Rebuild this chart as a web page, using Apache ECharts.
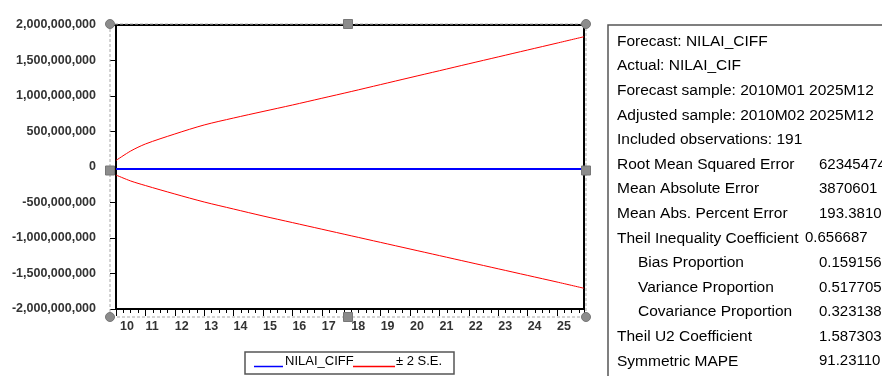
<!DOCTYPE html>
<html><head><meta charset="utf-8">
<script src="https://cdn.jsdelivr.net/npm/echarts@6/dist/echarts.min.js"></script>
<style>html,body{margin:0;padding:0;background:#fff}#c{width:882px;height:376px}</style>
</head><body><div id="c"></div>
<script>
// month index from 2010M01 (0) to 2025M12 (191)
const monthIndex = [0, 6, 12, 24, 36, 48, 60, 72, 84, 96, 108, 120, 132, 144, 156, 168, 180, 191];
const forecastValues = [-28e6, -28e6, -28e6, -28e6, -28e6, -28e6, -28e6, -28e6, -28e6, -28e6, -28e6, -28e6, -28e6, -28e6, -28e6, -28e6, -28e6, -28e6];
const upperBand = [92e6, 225e6, 324e6, 465e6, 592e6, 690e6, 782e6, 873e6, 968e6, 1063e6, 1161e6, 1259e6, 1356e6, 1454e6, 1551e6, 1648e6, 1745e6, 1835e6];
const lowerBand = [-113e6, -197e6, -261e6, -380e6, -493e6, -592e6, -690e6, -783e6, -876e6, -969e6, -1062e6, -1155e6, -1248e6, -1341e6, -1434e6, -1527e6, -1620e6, -1708e6];
const yearLabels = ['10', '11', '12', '13', '14', '15', '16', '17', '18', '19', '20', '21', '22', '23', '24', '25'];
const seriesNames = ['NILAI_CIFF', '± 2 S.E.'];
const statLabels = ['Forecast: NILAI_CIFF', 'Actual: NILAI_CIF', 'Forecast sample: 2010M01 2025M12', 'Adjusted sample: 2010M02 2025M12',
  'Included observations: 191', 'Root Mean Squared Error', 'Mean Absolute Error', 'Mean Abs. Percent Error',
  'Theil Inequality Coefficient', 'Bias Proportion', 'Variance Proportion', 'Covariance Proportion',
  'Theil U2 Coefficient', 'Symmetric MAPE'];
const statValues = ['', '', '', '', '', '62345474', '3870601', '193.3810', '0.656687', '0.159156', '0.517705', '0.323138', '1.587303', '91.23110'];

const pairs = (vals) => monthIndex.map((m, i) => [m, vals[i]]);
const indentedRows = {9: true, 10: true, 11: true};

const chart = echarts.init(document.getElementById('c'), null, {renderer: 'canvas'});
const FONT = "'Liberation Sans', Arial, sans-serif";

const graphics = [];
// selection frame (dashed) and handles
graphics.push({type: 'rect', z: 50, shape: {x: 110, y: 24, width: 476, height: 293},
  style: {fill: 'none', stroke: '#a8a8a8', lineWidth: 1, lineDash: [3, 2]}});
[[110, 24], [586, 24], [110, 317], [586, 317]].forEach(p => graphics.push({type: 'circle', z: 51,
  shape: {cx: p[0], cy: p[1], r: 4.5}, style: {fill: '#8c8c8c', stroke: '#777', lineWidth: 1}}));
[[348, 24], [348, 317], [110, 170.5], [586, 170.5]].forEach(p => graphics.push({type: 'rect', z: 51,
  shape: {x: p[0] - 4.5, y: p[1] - 4.5, width: 9, height: 9}, style: {fill: '#8c8c8c', stroke: '#777', lineWidth: 1}}));
// legend
graphics.push({type: 'rect', shape: {x: 245, y: 352, width: 209, height: 22}, style: {fill: '#fff', stroke: '#555', lineWidth: 1.5}});
graphics.push({type: 'line', shape: {x1: 254, y1: 366.5, x2: 283, y2: 366.5}, style: {stroke: '#0000ff', lineWidth: 1.5}});
graphics.push({type: 'text', x: 285, y: 361.5, style: {text: seriesNames[0], fill: '#000', font: "13px " + FONT, verticalAlign: 'middle', align: 'left'}});
graphics.push({type: 'line', shape: {x1: 353, y1: 366.5, x2: 395, y2: 366.5}, style: {stroke: '#ff0000', lineWidth: 1.5}});
graphics.push({type: 'text', x: 396, y: 361.5, style: {text: seriesNames[1], fill: '#000', font: "13px " + FONT, verticalAlign: 'middle', align: 'left'}});
// stats box
graphics.push({type: 'rect', shape: {x: 608, y: 25, width: 400, height: 400}, style: {fill: 'none', stroke: '#555', lineWidth: 1.5}});
statLabels.forEach((t, i) => {
  const y = 41.5 + i * 24.6;
  graphics.push({type: 'text', x: indentedRows[i] ? 638 : 617, y: y, style: {text: t, fill: '#000', font: "15.5px " + FONT, verticalAlign: 'middle', align: 'left'}});
  if (statValues[i]) {
    const vx = (i === 8) ? 805 : 819;
    graphics.push({type: 'text', x: vx, y: y, style: {text: statValues[i], fill: '#000', font: "15px " + FONT, verticalAlign: 'middle', align: 'left'}});
  }
});

chart.setOption({
  animation: false,
  backgroundColor: '#fff',
  grid: {left: 116, right: 298, top: 25, bottom: 67, show: true, borderColor: '#000', borderWidth: 2, backgroundColor: '#fff'},
  legend: {show: false},
  xAxis: {
    type: 'value', min: 0, max: 191, interval: 12,
    axisLine: {show: true, onZero: false, lineStyle: {color: '#000', width: 2}},
    axisTick: {show: true, length: 7, lineStyle: {color: '#000', width: 1}},
    minorTick: {show: true, splitNumber: 4, length: 4, lineStyle: {color: '#000', width: 1}},
    splitLine: {show: false}, minorSplitLine: {show: false},
    axisLabel: {
      margin: 11, align: 'left', color: '#333', fontWeight: 'bold', fontSize: 12.5, fontFamily: FONT,
      showMaxLabel: true,
      formatter: v => {
        if (v % 12 !== 0 || v > 180) return '';
        const s = yearLabels[v / 12];
        return v === 0 ? '{f|' + s + '}' : s;
      },
      rich: {f: {padding: [0, 0, 0, 4], color: '#333', fontWeight: 'bold', fontSize: 12.5, fontFamily: FONT}}
    }
  },
  yAxis: {
    type: 'value', min: -2e9, max: 2e9, interval: 5e8,
    axisLine: {show: true, onZero: false, lineStyle: {color: '#000', width: 2}},
    axisTick: {show: true, length: 6, lineStyle: {color: '#000', width: 1}},
    splitLine: {show: false},
    axisLabel: {
      margin: 20, color: '#333', fontWeight: 'bold', fontSize: 12.5, fontFamily: FONT, padding: [0, 0, 6, 0],
      formatter: v => v.toLocaleString('en-US')
    }
  },
  series: [
    {name: seriesNames[1], type: 'line', data: pairs(upperBand), smooth: 0.3, showSymbol: false, lineStyle: {color: '#ff0000', width: 1}, z: 2},
    {name: seriesNames[1], type: 'line', data: pairs(lowerBand), smooth: 0.3, showSymbol: false, lineStyle: {color: '#ff0000', width: 1}, z: 2},
    {name: seriesNames[0], type: 'line', data: pairs(forecastValues), showSymbol: false, lineStyle: {color: '#0000ff', width: 2}, z: 3}
  ],
  graphic: {elements: graphics}
});
</script></body></html>
